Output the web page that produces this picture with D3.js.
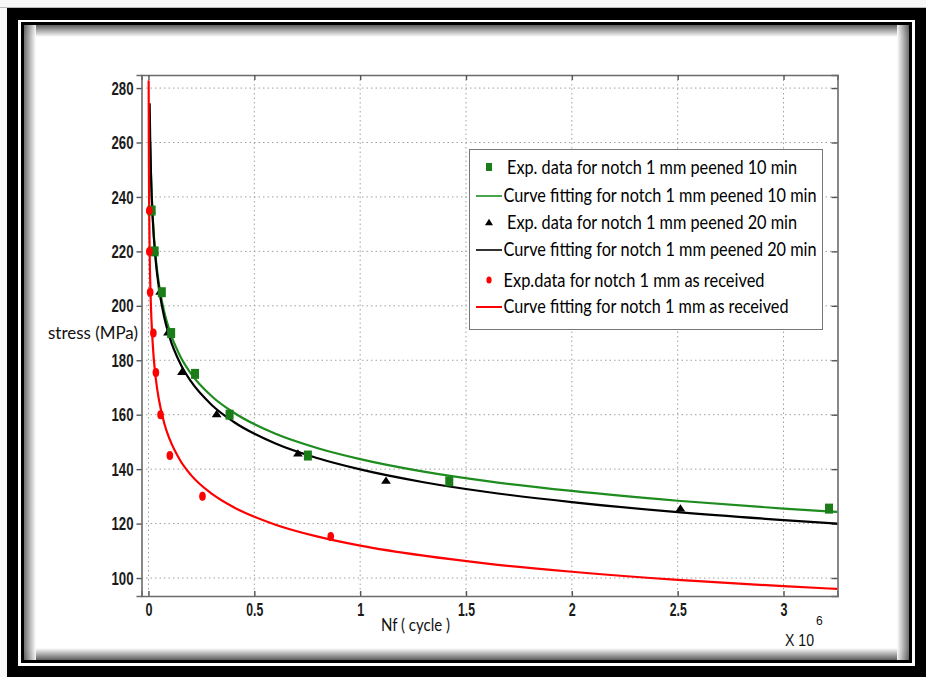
<!DOCTYPE html>
<html>
<head>
<meta charset="utf-8">
<script src="https://cdn.jsdelivr.net/npm/d3@7"></script>
<style>
  html, body { margin: 0; padding: 0; background: #fff; }
  svg { display: block; }
</style>
</head>
<body>
<svg id="chart" width="926" height="677"></svg>
<script>
// ---------------- DATA (N in units of 10^6 cycles, stress in MPa) ----------------
const xTicks = [0, 0.5, 1, 1.5, 2, 2.5, 3];
const xTickLabels = ["0", "0.5", "1", "1.5", "2", "2.5", "3"];
const yTicks = [100, 120, 140, 160, 180, 200, 220, 240, 260, 280];

// Exp. data, notch 1 mm peened 10 min (green squares)
const greenN = [0.015, 0.029, 0.063, 0.107, 0.22, 0.383, 0.753, 1.421, 3.215];
const greenS = [235, 220, 205, 190, 175, 160, 145, 135.5, 125.5];
// Exp. data, notch 1 mm peened 20 min (black triangles)
const blackN = [0.012, 0.027, 0.055, 0.092, 0.158, 0.322, 0.706, 1.122, 2.513];
const blackS = [235, 220, 205, 190, 175.5, 160, 145.5, 135.5, 125.3];
// Exp. data, notch 1 mm as received (red dots)
const redN = [0.004, 0.004, 0.008, 0.023, 0.035, 0.057, 0.101, 0.255, 0.861];
const redS = [235, 220, 205, 190, 175.5, 160, 145, 130, 115.3];

// Fitted curves
const greenFitN = [0.008, 0.012, 0.02, 0.035, 0.05, 0.075, 0.1, 0.15, 0.2, 0.3, 0.4, 0.6, 0.8, 1.0, 1.3, 1.6, 2.0, 2.5, 3.0, 3.255];
const greenFitS = [260.3, 247.6, 232.5, 217.1, 207.7, 197.6, 190.8, 181.5, 175.2, 166.7, 160.9, 153.0, 147.7, 143.7, 139.1, 135.6, 132.0, 128.4, 125.5, 124.3];
const blackFitN = [0.0055, 0.008, 0.012, 0.02, 0.035, 0.05, 0.075, 0.1, 0.15, 0.2, 0.3, 0.4, 0.6, 0.8, 1.0, 1.3, 1.6, 2.0, 2.5, 3.0, 3.255];
const blackFitS = [274.4, 261.4, 248.0, 232.1, 215.9, 206.2, 195.6, 188.4, 178.8, 172.3, 163.5, 157.5, 149.4, 144.0, 139.9, 135.2, 131.6, 127.9, 124.2, 121.3, 120.0];
const redFitN = [0.0008, 0.0015, 0.003, 0.006, 0.01, 0.02, 0.035, 0.05, 0.075, 0.1, 0.15, 0.2, 0.3, 0.4, 0.6, 0.8, 1.0, 1.3, 1.6, 2.0, 2.5, 3.0, 3.255];
const redFitS = [282.8, 260.6, 238.1, 217.6, 203.6, 186.1, 173.0, 165.2, 156.7, 151.0, 143.2, 137.9, 130.9, 126.1, 119.6, 115.2, 111.9, 108.2, 105.3, 102.3, 99.3, 97.0, 96.0];

const legendLabels = [
  "Exp. data for notch 1 mm peened 10 min",
  "Curve fitting for notch 1 mm peened 10 min",
  "Exp. data for notch 1 mm peened 20 min",
  "Curve fitting for notch 1 mm peened 20 min",
  "Exp.data for notch 1 mm as received",
  "Curve fitting for notch 1 mm as received"
];

// ---------------- STYLE ----------------
const GREEN_LINE = "#1e8c1e";
const GREEN_MARK = "#1a7d1a";
const RED = "#ff0000";
const BLACK = "#000000";

const svg = d3.select("#chart");

// ---------------- FRAME ----------------
svg.append("rect").attr("x", 0).attr("y", 0).attr("width", 926).attr("height", 677).attr("fill", "#f7f7f7");
svg.append("line").attr("x1", 0).attr("x2", 926).attr("y1", 7.5).attr("y2", 7.5).attr("stroke", "#bbb").attr("stroke-width", 1);
svg.append("rect").attr("x", 7).attr("y", 8).attr("width", 919).attr("height", 669).attr("fill", "#000");
svg.append("rect").attr("x", 18).attr("y", 20).attr("width", 897).attr("height", 646).attr("fill", "#fff");
svg.append("rect").attr("x", 21).attr("y", 22).attr("width", 891).attr("height", 641).attr("fill", "#000");

const defs = svg.append("defs");
function grad(id, x1, y1, x2, y2) {
  const g = defs.append("linearGradient").attr("id", id)
    .attr("x1", x1).attr("y1", y1).attr("x2", x2).attr("y2", y2);
  g.append("stop").attr("offset", "0%").attr("stop-color", "#5e5e5e");
  g.append("stop").attr("offset", "100%").attr("stop-color", "#ffffff");
}
grad("gTop", 0, 0, 0, 1); grad("gBot", 0, 1, 0, 0); grad("gLeft", 0, 0, 1, 0); grad("gRight", 1, 0, 0, 0);
const ix0 = 24, iy0 = 25, ix1 = 909, iy1 = 660, sh = 12;
svg.append("rect").attr("x", ix0).attr("y", iy0).attr("width", ix1 - ix0).attr("height", iy1 - iy0).attr("fill", "#fff");
svg.append("rect").attr("x", ix0).attr("y", iy0).attr("width", ix1 - ix0).attr("height", sh).attr("fill", "url(#gTop)");
svg.append("rect").attr("x", ix0).attr("y", iy1 - sh).attr("width", ix1 - ix0).attr("height", sh).attr("fill", "url(#gBot)");
svg.append("rect").attr("x", ix0).attr("y", iy0).attr("width", sh).attr("height", iy1 - iy0).attr("fill", "url(#gLeft)").attr("opacity", 0.9);
svg.append("rect").attr("x", ix1 - sh).attr("y", iy0).attr("width", sh).attr("height", iy1 - iy0).attr("fill", "url(#gRight)").attr("opacity", 0.9);

// ---------------- SCALES ----------------
const L = 141.5, R = 837.5, T = 75, B = 596;
const x = d3.scaleLinear().domain([-0.033, 3.255]).range([L, R]);
const y = d3.scaleLinear().domain([93.4, 284.8]).range([B, T]);

// plot background
svg.append("rect").attr("x", L).attr("y", T).attr("width", R - L).attr("height", B - T).attr("fill", "#fff");

// grid
const gridG = svg.append("g");
gridG.selectAll("line.vx").data(xTicks).join("line")
  .attr("x1", d => x(d)).attr("x2", d => x(d)).attr("y1", T).attr("y2", B)
  .attr("stroke", "#a0a0a0").attr("stroke-width", 1).attr("stroke-dasharray", "1.5,3");
gridG.selectAll("line.hy").data(yTicks).join("line")
  .attr("x1", L).attr("x2", R).attr("y1", d => y(d)).attr("y2", d => y(d))
  .attr("stroke", "#a0a0a0").attr("stroke-width", 1).attr("stroke-dasharray", "1.5,3");

// axes (box with ticks)
const axFont = "'Liberation Sans Narrow', 'Arial Narrow', 'Liberation Sans', Arial, sans-serif";
const xAxis = d3.axisBottom(x).tickValues(xTicks).tickFormat((d, i) => xTickLabels[i]).tickSize(-5).tickPadding(6);
const yAxis = d3.axisLeft(y).tickValues(yTicks).tickSize(5).tickPadding(3);
const gx = svg.append("g").attr("transform", `translate(0,${B})`).call(xAxis);
const gy = svg.append("g").attr("transform", `translate(${L},0)`).call(yAxis);
const gxTop = svg.append("g").attr("transform", `translate(0,${T})`).call(d3.axisTop(x).tickValues(xTicks).tickFormat("").tickSize(-5));
const gyR = svg.append("g").attr("transform", `translate(${R},0)`).call(d3.axisRight(y).tickValues(yTicks).tickFormat("").tickSize(-6));
[gx, gy, gxTop, gyR].forEach(g => {
  g.select(".domain").attr("stroke", "#6b6b6b").attr("stroke-width", 1.6);
  g.selectAll(".tick line").attr("stroke", "#555").attr("stroke-width", 1.4);
  g.selectAll("text").attr("font-family", axFont).attr("font-size", 19)
    .attr("font-weight", "bold").attr("fill", "#1a1a1a");
});
gx.selectAll(".tick text").attr("dy", "0.75em")
  .attr("textLength", (d, i) => xTickLabels[i].length === 1 ? 7 : 17)
  .attr("lengthAdjust", "spacingAndGlyphs");
gy.selectAll(".tick text").attr("textLength", 22).attr("lengthAdjust", "spacingAndGlyphs");

// ---------------- CURVES ----------------
svg.append("clipPath").attr("id", "plotClip").append("rect")
  .attr("x", L).attr("y", T).attr("width", R - L).attr("height", B - T);
const lineGen = d3.line().x(d => x(d[0])).y(d => y(d[1])).curve(d3.curveMonotoneX);
const plot = svg.append("g").attr("clip-path", "url(#plotClip)");

function drawFit(N, S, color) {
  plot.append("path").datum(N.map((n, i) => [n, S[i]]))
    .attr("d", lineGen).attr("fill", "none").attr("stroke", color).attr("stroke-width", 2.2);
}
drawFit(greenFitN, greenFitS, GREEN_LINE);
drawFit(blackFitN, blackFitS, BLACK);
drawFit(redFitN, redFitS, RED);

// ---------------- MARKERS ----------------
const tri = d3.symbol().type(d3.symbolTriangle).size(34);
plot.selectAll("path.blk").data(blackN.map((n, i) => [n, blackS[i]])).join("path")
  .attr("transform", d => `translate(${x(d[0])},${y(d[1])}) scale(1.1,0.95)`)
  .attr("d", tri).attr("fill", BLACK);
plot.selectAll("rect.grn").data(greenN.map((n, i) => [n, greenS[i]])).join("rect")
  .attr("x", d => x(d[0]) - 4).attr("y", d => y(d[1]) - 5).attr("width", 8).attr("height", 10)
  .attr("fill", GREEN_MARK);
plot.selectAll("ellipse.red").data(redN.map((n, i) => [n, redS[i]])).join("ellipse")
  .attr("cx", d => x(d[0])).attr("cy", d => y(d[1])).attr("rx", 3.3).attr("ry", 4.5)
  .attr("fill", RED);

// ---------------- AXIS LABELS ----------------
const labFont = "Lato, 'Open Sans', 'Liberation Sans', sans-serif";
svg.append("text").attr("x", 48).attr("y", 339).text("stress (MPa)")
  .attr("font-family", labFont).attr("font-size", 17).attr("fill", "#111")
  .attr("textLength", 90).attr("lengthAdjust", "spacingAndGlyphs");
svg.append("text").attr("x", 381).attr("y", 631).text("Nf ( cycle )")
  .attr("font-family", labFont).attr("font-size", 18).attr("fill", "#111")
  .attr("textLength", 69).attr("lengthAdjust", "spacingAndGlyphs");
svg.append("text").attr("x", 785).attr("y", 646).text("X 10")
  .attr("font-family", axFont).attr("font-size", 17).attr("fill", "#111")
  .attr("textLength", 29).attr("lengthAdjust", "spacingAndGlyphs");
svg.append("text").attr("x", 816).attr("y", 625).text("6")
  .attr("font-family", axFont).attr("font-size", 12).attr("fill", "#111");

// ---------------- LEGEND ----------------
const lg = svg.append("g");
lg.append("rect").attr("x", 469.5).attr("y", 149.5).attr("width", 353).attr("height", 180)
  .attr("fill", "#fff").attr("stroke", "#777").attr("stroke-width", 1);
const rowY = [167, 195, 222, 249, 280, 306];
const textX = [507, 503.5, 507, 503.5, 503.5, 503.5];
const textW = [290, 313, 290, 313, 261, 285];
lg.append("rect").attr("x", 486).attr("y", rowY[0] - 4).attr("width", 6).attr("height", 8).attr("fill", GREEN_MARK);
lg.append("line").attr("x1", 476).attr("x2", 502).attr("y1", rowY[1] + 1).attr("y2", rowY[1] + 1).attr("stroke", GREEN_LINE).attr("stroke-width", 1.6);
lg.append("path").attr("transform", `translate(489,${rowY[2] + 1}) scale(0.9,0.85)`).attr("d", tri).attr("fill", BLACK);
lg.append("line").attr("x1", 476).attr("x2", 502).attr("y1", rowY[3] + 1).attr("y2", rowY[3] + 1).attr("stroke", BLACK).attr("stroke-width", 1.6);
lg.append("ellipse").attr("cx", 489).attr("cy", rowY[4]).attr("rx", 2.6).attr("ry", 3.6).attr("fill", RED);
lg.append("line").attr("x1", 476).attr("x2", 502).attr("y1", rowY[5] + 1).attr("y2", rowY[5] + 1).attr("stroke", RED).attr("stroke-width", 2);
lg.selectAll("text.lt").data(legendLabels).join("text")
  .attr("x", (d, i) => textX[i]).attr("y", (d, i) => rowY[i] + 6.5)
  .attr("font-family", labFont).attr("font-size", 19).attr("fill", "#000")
  .attr("textLength", (d, i) => textW[i]).attr("lengthAdjust", "spacingAndGlyphs")
  .text(d => d);
</script>
</body>
</html>
